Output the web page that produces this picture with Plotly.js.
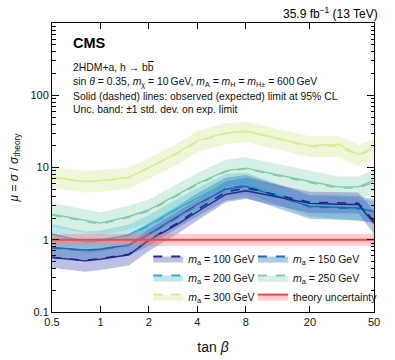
<!DOCTYPE html>
<html>
<head>
<meta charset="utf-8">
<script src="https://cdn.plot.ly/plotly-3.0.1.min.js"></script>
<style>
  html, body { margin: 0; padding: 0; background: #fff; }
  #chart { width: 395px; height: 360px; }
</style>
</head>
<body>
<div id="chart"></div>
<script>
// tan(beta) points used for every mass hypothesis
const tanBeta = [0.5, 0.8, 1, 1.5, 2, 3, 4, 6, 8, 20, 30, 40, 50];

// observed limits
const obs100 = [0.57, 0.51, 0.54, 0.62, 0.98, 1.63, 2.44, 4.25, 4.77, 3.19, 3.1, 3.07, 1.69];
const obs150 = [0.78, 0.72, 0.74, 0.85, 1.2, 2.1, 3.1, 5.0, 5.5, 2.9, 2.8, 2.75, 2.45];
const obs200 = [1.2, 0.94, 0.97, 1.18, 1.6, 2.7, 3.8, 5.9, 6.2, 3.0, 2.8, 2.65, 2.5];
const obs250 = [2.25, 1.85, 1.7, 2.1, 2.6, 4.2, 6.0, 9.0, 9.8, 6.4, 5.4, 5.4, 6.7];
const obs300 = [7.4, 6.4, 6.6, 7.3, 10, 16, 23.5, 30, 32, 20, 21, 15, 19.5];

// expected limits
const exp100 = [0.57, 0.52, 0.55, 0.63, 1.0, 1.7, 2.6, 4.6, 5.2, 3.3, 3.25, 3.2, 1.8];
const exp150 = [0.77, 0.71, 0.74, 0.84, 1.18, 2.05, 3.05, 5.1, 5.6, 2.85, 2.8, 2.7, 2.5];
const exp200 = [1.18, 0.93, 0.96, 1.16, 1.55, 2.65, 3.75, 5.8, 6.1, 2.95, 2.75, 2.6, 2.45];
const exp250 = [2.2, 1.8, 1.65, 2.05, 2.5, 4.1, 5.8, 8.8, 9.6, 6.2, 5.2, 5.2, 6.3];
const exp300 = [7.3, 6.3, 6.5, 7.2, 9.8, 15.5, 23, 29.5, 31.5, 19.5, 19.8, 14.8, 18];

// +-1 std. dev. band on the expected limit
const hi100 = [0.8, 0.72, 0.76, 0.88, 1.4, 2.4, 3.6, 6.4, 7.2, 4.6, 4.5, 4.5, 2.5];
const lo100 = [0.41, 0.36, 0.38, 0.44, 0.7, 1.2, 1.85, 3.3, 3.7, 2.35, 2.3, 2.3, 1.2];
const hi150 = [1.1, 1.0, 1.04, 1.18, 1.7, 2.9, 4.4, 7.2, 7.9, 4.2, 4.1, 4.0, 3.6];
const lo150 = [0.55, 0.5, 0.52, 0.6, 0.82, 1.45, 2.1, 3.5, 3.8, 1.95, 1.9, 1.85, 1.7];
const hi200 = [1.65, 1.3, 1.34, 1.62, 2.2, 3.7, 5.2, 8.1, 8.5, 4.1, 3.85, 3.65, 3.4];
const lo200 = [0.84, 0.66, 0.68, 0.83, 1.1, 1.9, 2.7, 4.1, 4.4, 2.1, 1.95, 1.85, 1.75];
const hi250 = [3.2, 2.6, 2.4, 2.95, 3.6, 5.9, 8.4, 12.8, 13.9, 9.0, 7.5, 7.5, 9.2];
const lo250 = [1.5, 1.25, 1.15, 1.4, 1.72, 2.8, 4.0, 6.1, 6.6, 4.3, 3.6, 3.6, 4.4];
const hi300 = [10.3, 9.0, 9.2, 10, 13.5, 21.5, 32, 41, 43, 27, 27.5, 20.5, 25];
const lo300 = [5.2, 4.5, 4.6, 5.1, 7.0, 11, 16.5, 21, 22.5, 14, 14, 10.5, 13];

// theory uncertainty band at mu = 1
const theoryX = [0.5, 50];
const theoryY = [1, 1];
const theoryHi = [1.2, 1.2];
const theoryLo = [0.82, 0.82];

const xTicks = [0.5, 1, 2, 4, 8, 20, 50];
const xTickText = ['0.5', '1', '2', '4', '8', '20', '50'];
const yTicks = [0.1, 1, 10, 100];
const yTickText = ['0.1', '1', '10', '100'];

const series = [
  {m: '300', obs: obs300, exp: exp300, hi: hi300, lo: lo300, line: 'rgb(214,236,150)', band: 'rgba(205,232,140,0.35)', legend: 'legend'},
  {m: '250', obs: obs250, exp: exp250, hi: hi250, lo: lo250, line: 'rgb(125,205,165)', band: 'rgba(140,212,180,0.35)', legend: 'legend2'},
  {m: '200', obs: obs200, exp: exp200, hi: hi200, lo: lo200, line: 'rgb(45,178,205)', band: 'rgba(95,195,215,0.4)', legend: 'legend'},
  {m: '150', obs: obs150, exp: exp150, hi: hi150, lo: lo150, line: 'rgb(30,105,175)', band: 'rgba(55,130,190,0.42)', legend: 'legend2'},
  {m: '100', obs: obs100, exp: exp100, hi: hi100, lo: lo100, line: 'rgb(32,40,140)', band: 'rgba(80,90,185,0.38)', legend: 'legend'}
];

const font = 'Liberation Sans, Arial, Helvetica, sans-serif';
const traces = [];

// bands first
series.forEach(s => {
  traces.push({
    x: tanBeta.concat(tanBeta.slice().reverse()),
    y: s.hi.concat(s.lo.slice().reverse()),
    type: 'scatter', mode: 'lines', fill: 'toself', fillcolor: s.band,
    line: {width: 0}, hoverinfo: 'skip', showlegend: false
  });
});

// expected (dashed) and observed (solid) lines
series.forEach(s => {
  traces.push({
    x: tanBeta, y: s.exp, type: 'scatter', mode: 'lines',
    line: {color: s.line, width: 1.6, dash: 'dash'}, showlegend: false
  });
  traces.push({
    x: tanBeta, y: s.obs, type: 'scatter', mode: 'lines',
    line: {color: s.line, width: 1.4}, showlegend: false
  });
});

// theory band and line on top
traces.push({
  x: theoryX.concat(theoryX.slice().reverse()),
  y: theoryHi.concat(theoryLo.slice().reverse()),
  type: 'scatter', mode: 'lines', fill: 'toself', fillcolor: 'rgba(255,120,130,0.38)',
  line: {width: 0}, hoverinfo: 'skip', showlegend: false
});
traces.push({
  x: theoryX, y: theoryY, type: 'scatter', mode: 'lines',
  line: {color: 'rgb(245,70,70)', width: 2}, showlegend: false
});

// legend entries
const legendOrder = ['100', '150', '200', '250', '300'];
legendOrder.forEach(m => {
  const s = series.find(d => d.m === m);
  traces.push({
    x: [null], y: [null], type: 'scatter', mode: 'lines', fill: 'toself',
    fillcolor: s.band, line: {color: s.line, width: 2, dash: 'dash'},
    name: '<i>m</i><sub>a</sub> = ' + m + ' GeV', legend: s.legend
  });
});
traces.push({
  x: [null], y: [null], type: 'scatter', mode: 'lines', fill: 'toself',
  fillcolor: 'rgba(255,120,130,0.38)', line: {color: 'rgb(245,70,70)', width: 2},
  name: 'theory uncertainty', legend: 'legend2'
});

const textLines = [
  {t: '2HDM+a, h \u2192 b<span style="text-decoration:overline">b</span>', y: 68},
  {t: 'sin <i>\u03b8</i> = 0.35, <i>m</i><sub>\u03c7</sub> = 10\u2009GeV, <i>m</i><sub>A</sub> = <i>m</i><sub>H</sub> = <i>m</i><sub>H\u00b1</sub> = 600\u2009GeV', y: 83},
  {t: 'Solid (dashed) lines: observed (expected) limit at 95% CL', y: 97},
  {t: 'Unc. band: \u00b11 std. dev. on exp. limit', y: 109}
];

const plotTop = 23, plotH = 289;
const annotations = [
  {text: '<b>CMS</b>', xref: 'paper', yref: 'paper', x: 0.06, y: 1 - (43 - plotTop) / plotH,
   xanchor: 'left', yanchor: 'middle', showarrow: false, font: {family: font, size: 14.5, color: '#000'}},
  {text: '35.9 fb<sup>\u22121</sup> (13 TeV)', xref: 'paper', yref: 'paper', x: 1.02, y: 1 + (plotTop - 13) / plotH,
   xanchor: 'right', yanchor: 'middle', showarrow: false, font: {family: font, size: 12, color: '#000'}}
];
textLines.forEach(l => {
  annotations.push({
    text: l.t, xref: 'paper', yref: 'paper', x: 0.06, y: 1 - (l.y - plotTop) / plotH,
    xanchor: 'left', yanchor: 'middle', showarrow: false,
    font: {family: font, size: 10.4, color: '#111'}
  });
});

const legendStyle = {
  font: {family: font, size: 10.5, color: '#111'},
  bgcolor: 'rgba(0,0,0,0)', borderwidth: 0,
  xanchor: 'left', yanchor: 'top', itemwidth: 30, tracegroupgap: 0
};

const layout = {
  width: 395, height: 360,
  margin: {l: 52, r: 12, t: 23, b: 48},
  paper_bgcolor: '#fff', plot_bgcolor: '#fff',
  font: {family: font, color: '#111'},
  showlegend: true,
  legend: Object.assign({x: 0.299, y: 0.235}, legendStyle),
  legend2: Object.assign({x: 0.624, y: 0.235}, legendStyle),
  xaxis: {
    type: 'log', range: [Math.log10(0.5), Math.log10(50)],
    tickvals: xTicks, ticktext: xTickText,
    ticks: 'inside', ticklen: 6, tickcolor: '#000',
    showline: true, linecolor: '#000', linewidth: 1, mirror: 'allticks',
    showgrid: false, zeroline: false,
    tickfont: {family: font, size: 11, color: '#111'},
    title: {text: 'tan <i>\u03b2</i>', font: {family: font, size: 14, color: '#111'}, standoff: 14}
  },
  yaxis: {
    type: 'log', range: [-1, 3],
    tickvals: yTicks, ticktext: yTickText,
    ticks: 'inside', ticklen: 7, tickcolor: '#000',
    minor: {ticks: 'inside', ticklen: 3.5, tickcolor: '#000', dtick: 'D1', showgrid: false},
    showline: true, linecolor: '#000', linewidth: 1, mirror: 'allticks',
    showgrid: false, zeroline: false,
    tickfont: {family: font, size: 11, color: '#111'},
    title: {text: '<i>\u03bc</i> = <i>\u03c3</i> / <i>\u03c3</i><sub>theory</sub>', font: {family: font, size: 12, color: '#111'}, standoff: 9}
  },
  annotations: annotations
};

Plotly.newPlot('chart', traces, layout, {displayModeBar: false, staticPlot: true});
</script>
</body>
</html>
